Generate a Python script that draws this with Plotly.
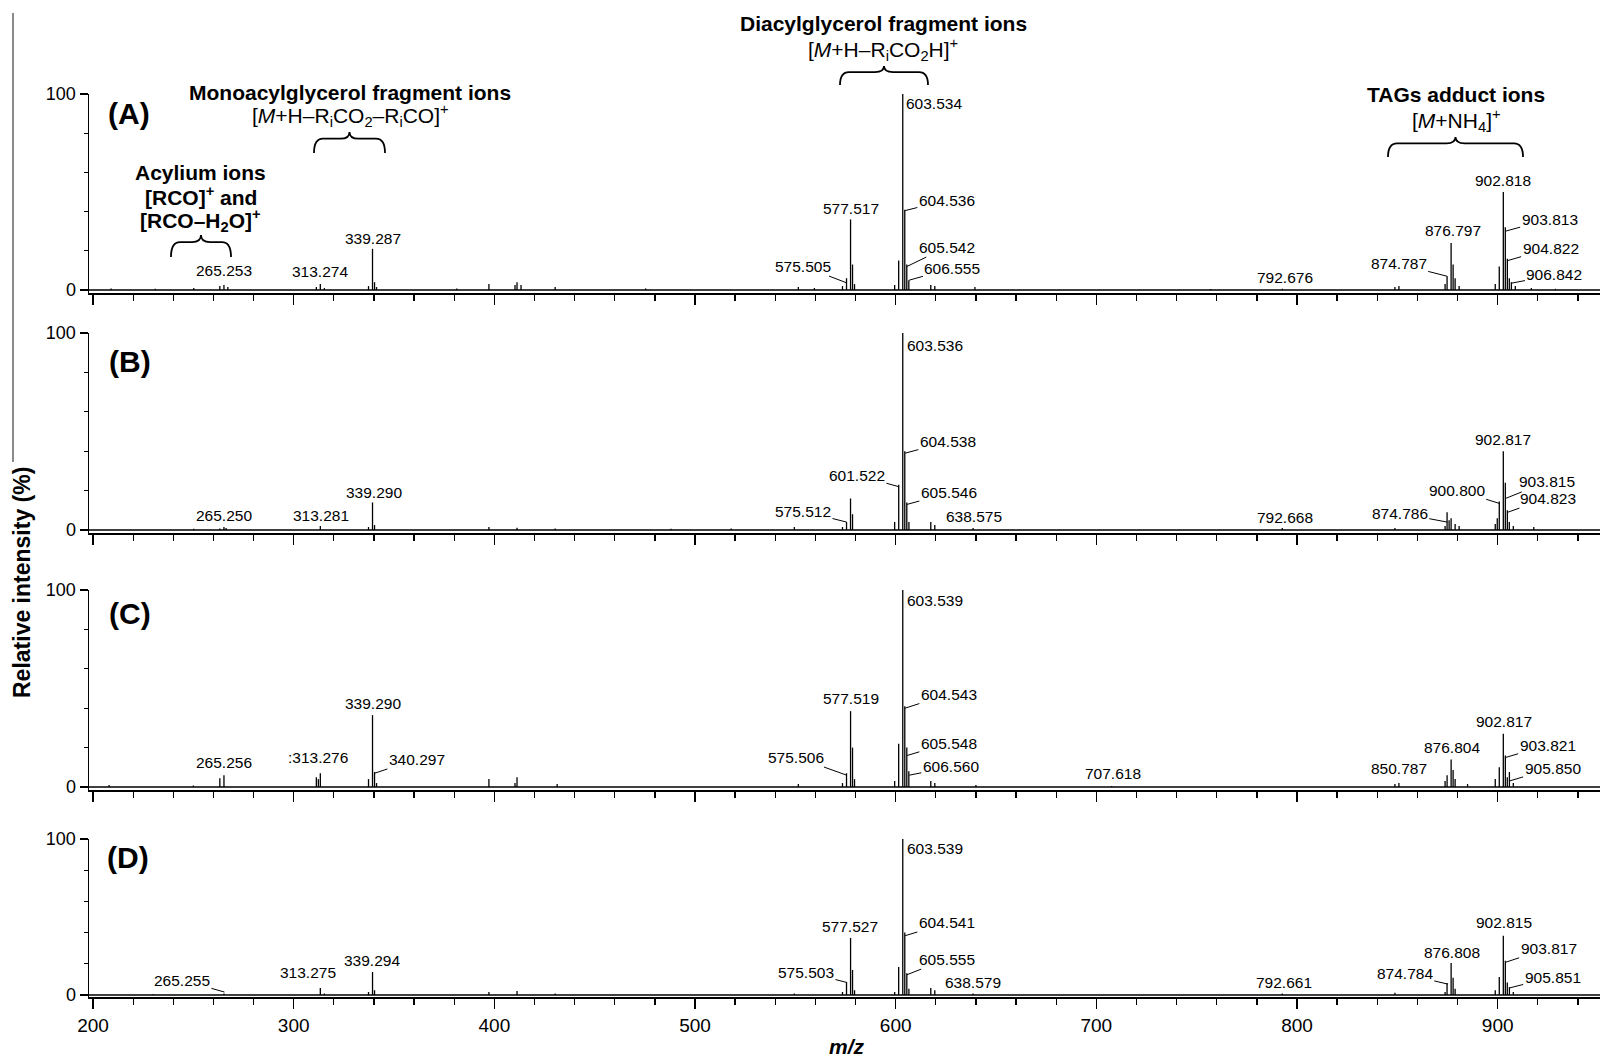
import plotly.graph_objects as go

W, H = 1600, 1059
FONT = "Liberation Sans, Arial, Helvetica, sans-serif"

# ---------------- data ----------------
X_RANGE = [198, 951]
Y_MIN = -1.5
PANEL_NAMES = ["(A)", "(B)", "(C)", "(D)"]

A_MZ = [209, 231, 250.2, 263.2, 265.253, 267.2, 311.3, 313.274, 315.3, 337.3, 339.287, 340.3, 341.3, 381.3,
        397.3, 410.3, 411.3, 413.3, 430.3, 475.4, 551.5, 559.5, 573.5, 575.505, 577.517, 578.5, 579.5, 599.5,
        601.5, 603.534, 604.536, 605.542, 606.555, 617.5, 619.5, 639.5, 757.0, 792.676, 848.8, 850.8, 873.8,
        874.787, 876.797, 877.8, 878.8, 880.8, 898.8, 900.8, 902.818, 903.813, 904.822, 905.8, 906.842, 908.8,
        916.8, 928.8]
A_INT = [0.8, 0.7, 1.0, 2.0, 2.5, 1.5, 1.5, 3.0, 1.0, 2.0, 21.0, 4.0, 1.5, 0.8,
         3.0, 2.5, 4.0, 2.5, 1.5, 0.8, 1.5, 1.0, 2.0, 6.0, 36.0, 13.0, 3.0, 2.5,
         15.0, 100.0, 41.0, 13.0, 5.0, 2.5, 2.0, 1.5, 0.5, 0.6, 1.5, 2.0, 3.0,
         7.0, 24.0, 13.0, 6.0, 2.0, 3.0, 12.0, 50.0, 32.0, 16.0, 6.0, 4.0, 2.0,
         1.0, 0.6]

B_MZ = [250.2, 263.2, 265.250, 266.3, 313.281, 337.3, 339.290, 340.3, 397.3, 411.3, 430.3, 488.0, 518.0,
        549.5, 573.5, 575.512, 577.5, 578.5, 599.5, 601.522, 603.536, 604.538, 605.546, 606.6, 617.5, 619.5,
        638.575, 792.668, 848.8, 873.8, 874.786, 875.8, 876.8, 878.8, 880.8, 898.8, 899.8, 900.800, 902.817,
        903.815, 904.823, 905.8, 907.8, 918.0]
B_INT = [0.6, 0.8, 1.5, 1.0, 2.0, 1.5, 14.0, 2.5, 1.5, 1.2, 0.8, 0.6, 0.8,
         1.5, 1.5, 4.0, 16.0, 8.0, 4.0, 23.0, 100.0, 40.0, 14.0, 4.0, 4.0, 2.5,
         1.0, 1.0, 1.0, 2.0, 9.0, 5.0, 6.0, 3.0, 2.0, 3.0, 6.0, 14.5, 40.0,
         24.0, 10.0, 4.0, 2.0, 1.5]

C_MZ = [208.0, 250.0, 263.2, 265.256, 311.3, 312.3, 313.276, 337.3, 339.290, 340.297, 341.3, 397.3, 410.3,
        411.3, 431.3, 551.5, 573.5, 575.506, 577.519, 578.5, 579.5, 599.5, 601.5, 603.539, 604.543, 605.548,
        606.560, 617.5, 619.5, 640.0, 707.618, 848.8, 850.787, 873.8, 874.8, 876.804, 877.8, 878.8, 885.0,
        898.8, 900.8, 902.817, 903.821, 904.8, 905.850, 907.8]
C_INT = [1.0, 0.8, 4.5, 6.0, 5.0, 4.0, 7.0, 4.0, 36.5, 7.6, 2.0, 4.0, 2.0,
         5.0, 1.5, 1.5, 2.0, 7.0, 38.5, 20.0, 4.0, 3.0, 22.0, 100.0, 41.0, 20.0,
         8.0, 3.0, 2.0, 1.0, 0.5, 1.5, 2.0, 3.0, 6.0, 14.0, 8.6, 4.0, 1.5,
         4.0, 10.0, 27.0, 16.0, 5.0, 7.6, 2.0]

D_MZ = [230.0, 265.255, 313.275, 315.3, 337.3, 339.294, 340.3, 397.3, 411.3, 430.3, 549.5, 573.5, 575.503,
        577.527, 578.5, 579.5, 599.5, 601.5, 603.539, 604.541, 605.555, 606.6, 617.5, 619.5, 638.579, 792.661,
        848.8, 873.8, 874.784, 876.808, 877.8, 878.8, 898.8, 900.8, 902.815, 903.817, 904.8, 905.851, 907.8]
D_INT = [0.5, 1.0, 4.5, 1.0, 2.0, 14.7, 3.0, 2.0, 2.5, 1.0, 1.0, 2.0, 8.0,
         36.5, 16.0, 3.0, 2.0, 18.0, 100.0, 40.0, 14.0, 4.0, 4.5, 3.0, 1.0, 1.0,
         1.5, 2.0, 7.7, 20.5, 11.0, 4.0, 3.0, 11.5, 38.0, 22.0, 8.0, 5.0, 2.0]

# peak labels: text
A_LABEL_TEXT = ["265.253", "313.274", "339.287", "575.505", "577.517", "603.534", "604.536", "605.542",
                "606.555", "792.676", "874.787", "876.797", "902.818", "903.813", "904.822", "906.842"]
B_LABEL_TEXT = ["265.250", "313.281", "339.290", "575.512", "601.522", "603.536", "604.538", "605.546",
                "638.575", "792.668", "874.786", "900.800", "902.817", "903.815", "904.823"]
C_LABEL_TEXT = ["265.256", ":313.276", "339.290", "340.297", "575.506", "577.519", "603.539", "604.543",
                "605.548", "606.560", "707.618", "850.787", "876.804", "902.817", "903.821", "905.850"]
D_LABEL_TEXT = ["265.255", "313.275", "339.294", "575.503", "577.527", "603.539", "604.541", "605.555",
                "638.579", "792.661", "874.784", "876.808", "902.815", "903.817", "905.851"]

# label placement: (text x, text y, leader-to x, leader-to y)  (None = no leader)
A_LABEL_POS = [(265.3, 9.7, None, None), (313.1, 9.2, None, None), (339.5, 26.5, None, None),
               (553.8, 12.2, 575.7, 3.6), (577.5, 41.8, None, None), (604.1, 94.9, None, None),
               (625.5, 45.9, 604.7, 40.5), (625.5, 21.9, 605.6, 12.0), (628.3, 11.2, 606.7, 5.0),
               (793.9, 6.6, None, None), (850.7, 13.3, 874.9, 7.0), (877.6, 30.6, None, None),
               (902.5, 56.1, None, None), (925.9, 36.2, 903.9, 30.0), (926.4, 21.4, 905.0, 15.0),
               (928.3, 7.7, 907.0, 3.5)]
B_LABEL_POS = [(265.3, 7.6, None, None), (313.6, 7.6, None, None), (339.8, 18.8, None, None),
               (553.8, 9.6, 575.6, 4.0), (580.7, 27.9, 601.5, 22.0), (604.6, 93.9, None, None),
               (626.0, 44.8, 604.7, 39.0), (626.5, 18.8, 605.7, 13.0), (638.9, 7.1, None, None),
               (793.9, 6.6, None, None), (851.2, 8.6, 874.9, 4.0), (879.6, 20.3, 900.8, 13.5),
               (902.5, 45.7, None, None), (924.4, 24.4, 903.9, 16.0), (924.9, 16.2, 905.0, 9.0)]
C_LABEL_POS = [(265.3, 12.2, None, None), (312.0, 15.2, None, None), (339.5, 42.6, None, None),
               (361.4, 14.2, 340.4, 7.0), (550.3, 15.2, 575.6, 6.0), (577.5, 44.7, None, None),
               (604.6, 94.9, None, None), (626.5, 47.2, 604.7, 40.0), (626.5, 22.3, 605.7, 16.0),
               (627.5, 10.2, 606.8, 6.0), (708.2, 6.9, None, None), (850.7, 9.6, None, None),
               (877.1, 19.8, None, None), (903.0, 33.0, None, None), (924.9, 21.3, 904.0, 15.0),
               (927.4, 9.6, 905.7, 3.0)]
D_LABEL_POS = [(244.3, 9.6, 265.5, 1.9), (306.9, 14.7, None, None), (339.2, 22.4, None, None),
               (555.3, 14.7, 575.8, 8.0), (577.4, 43.8, None, None), (604.6, 93.6, None, None),
               (625.5, 46.2, 604.7, 38.0), (625.5, 23.0, 605.6, 13.0), (638.7, 8.3, None, None),
               (793.7, 7.7, None, None), (853.7, 13.5, 875.1, 7.0), (877.1, 27.1, None, None),
               (903.0, 46.2, None, None), (925.4, 30.1, 904.0, 21.0), (927.4, 11.5, 905.8, 4.5)]

# ---------------- layout geometry (pixels of the picture) ----------------
PLOT_LEFT_PX = 89
PANEL_TOP_PX = [94, 333, 590, 839]      # y = 100
PANEL_ZERO_PX = [290, 530, 787, 995]    # y = 0


def px_x(px):
    return px / W


def px_y(py):
    return 1 - py / H


panels = [(A_MZ, A_INT, A_LABEL_TEXT, A_LABEL_POS),
          (B_MZ, B_INT, B_LABEL_TEXT, B_LABEL_POS),
          (C_MZ, C_INT, C_LABEL_TEXT, C_LABEL_POS),
          (D_MZ, D_INT, D_LABEL_TEXT, D_LABEL_POS)]

fig = go.Figure()
layout = dict(
    width=W, height=H, margin=dict(l=0, r=0, t=0, b=0, pad=0, autoexpand=False),
    paper_bgcolor="white", plot_bgcolor="white",
    font=dict(family=FONT, color="black"),
    showlegend=False, hovermode=False,
)
annotations = []
shapes = []

for i, (mz, inten, ltext, lpos) in enumerate(panels):
    sfx = "" if i == 0 else str(i + 1)
    xa, ya = "x" + sfx, "y" + sfx
    xs, ys = [X_RANGE[0], X_RANGE[1], None], [0, 0, None]
    for m, v in zip(mz, inten):
        xs += [m, m, None]
        ys += [0, v, None]
    fig.add_trace(go.Scatter(x=xs, y=ys, mode="lines", line=dict(color="black", width=1.3),
                             xaxis=xa, yaxis=ya, hoverinfo="skip"))

    top, zero = PANEL_TOP_PX[i], PANEL_ZERO_PX[i]
    scale = (zero - top) / 100.0
    bottom = zero - Y_MIN * scale
    layout["xaxis" + sfx] = dict(
        domain=[px_x(PLOT_LEFT_PX), 1.0], range=X_RANGE, anchor=ya, automargin=False,
        showline=True, linecolor="black", linewidth=1.8,
        ticks="outside", tick0=0, dtick=100, ticklen=10, tickwidth=1.6, tickcolor="black",
        minor=dict(ticks="outside", tick0=0, dtick=20, ticklen=6, tickwidth=1.3, tickcolor="black"),
        showticklabels=(i == 3), tickfont=dict(size=19, family=FONT, color="black"),
        showgrid=False, zeroline=False, fixedrange=True,
    )
    layout["yaxis" + sfx] = dict(
        domain=[px_y(bottom), px_y(top)], range=[Y_MIN, 100], anchor=xa, automargin=False,
        showline=True, linecolor="black", linewidth=1.5,
        tickvals=[0, 100], ticktext=["0", "100"],
        ticks="outside", ticklen=8, tickwidth=1.5, tickcolor="black",
        minor=dict(ticks="outside", tickvals=[20, 40, 60, 80], ticklen=4, tickwidth=1.2, tickcolor="black"),
        tickfont=dict(size=18, family=FONT, color="black"),
        showgrid=False, zeroline=False, fixedrange=True,
    )

    for t, (tx, ty, hx, hy) in zip(ltext, lpos):
        base_peak = t.startswith("603.")
        ann = dict(text=t, xref=xa, yref=ya, font=dict(size=15.5, family=FONT, color="black"))
        if hx is None:
            ann.update(x=tx, y=ty, showarrow=False, xanchor="left" if base_peak else "center",
                       yanchor="middle")
        else:
            ann.update(x=hx, y=hy, ax=tx, ay=ty, axref=xa, ayref=ya, showarrow=True,
                       arrowhead=0, arrowwidth=1, arrowcolor="black", standoff=0,
                       xanchor="center", yanchor="middle")
        annotations.append(ann)

# panel letters
PANEL_LABEL_PX = [(129, 113), (130, 362), (130, 613), (128, 857)]
for name, (px, py) in zip(PANEL_NAMES, PANEL_LABEL_PX):
    annotations.append(dict(text="<b>%s</b>" % name, x=px_x(px), y=px_y(py), xref="paper", yref="paper",
                             showarrow=False, xanchor="center", yanchor="middle",
                             font=dict(size=30, family=FONT)))

# group headers
HEADERS = [
    ("<b>Acylium ions</b>", 200, 172),
    ("<b>[RCO]<sup>+</sup> and</b>", 201, 196),
    ("<b>[RCO–H<sub>2</sub>O]<sup>+</sup></b>", 201, 221),
    ("<b>Monoacylglycerol fragment ions</b>", 350, 92),
    ("[<i>M</i>+H–R<sub>i</sub>CO<sub>2</sub>–R<sub>i</sub>CO]<sup>+</sup>", 350, 116),
    ("<b>Diacylglycerol fragment ions</b>", 883, 24),
    ("[<i>M</i>+H–R<sub>i</sub>CO<sub>2</sub>H]<sup>+</sup>", 883, 50),
    ("<b>TAGs adduct ions</b>", 1456, 95),
    ("[<i>M</i>+NH<sub>4</sub>]<sup>+</sup>", 1456, 121),
]
for txt, px, py in HEADERS:
    annotations.append(dict(text=txt, x=px_x(px), y=px_y(py), xref="paper", yref="paper",
                             showarrow=False, xanchor="center", yanchor="middle",
                             font=dict(size=21, family=FONT)))

# braces
BRACES = [(171, 231, 235, 257), (314, 385, 132, 153), (840, 928, 66, 85), (1388, 1523, 137, 157)]


def brace_path(x0, x1, yt, yb):
    xc = (x0 + x1) / 2.0
    ym = yt + (yb - yt) * 0.32
    r = 9.0
    pts = [("M", [(x0, yb)]),
           ("Q", [(x0, ym), (x0 + r, ym)]),
           ("L", [(xc - r, ym)]),
           ("Q", [(xc, ym), (xc, yt)]),
           ("Q", [(xc, ym), (xc + r, ym)]),
           ("L", [(x1 - r, ym)]),
           ("Q", [(x1, ym), (x1, yb)])]
    s = ""
    for cmd, cs in pts:
        s += cmd + " " + " ".join("%.5f,%.5f" % (px_x(a), px_y(b)) for a, b in cs) + " "
    return s.strip()


for x0, x1, yt, yb in BRACES:
    shapes.append(dict(type="path", path=brace_path(x0, x1, yt, yb), xref="paper", yref="paper",
                       line=dict(color="black", width=1.8)))

# left gray edge line
shapes.append(dict(type="line", x0=px_x(13), x1=px_x(13), y0=px_y(13), y1=px_y(462),
                   xref="paper", yref="paper", line=dict(color="#8a8a8a", width=2)))

# axis titles
annotations.append(dict(text="<b>Relative intensity (%)</b>", x=px_x(22), y=px_y(583), xref="paper",
                         yref="paper", showarrow=False, textangle=-90, xanchor="center", yanchor="middle",
                         font=dict(size=23, family=FONT)))
annotations.append(dict(text="<b><i>m/z</i></b>", x=px_x(847), y=px_y(1046), xref="paper", yref="paper",
                         showarrow=False, xanchor="center", yanchor="middle", font=dict(size=21, family=FONT)))

layout["annotations"] = annotations
layout["shapes"] = shapes
fig.update_layout(**layout)

fig.write_html("out.html", config={"displayModeBar": False, "staticPlot": True},
               post_script="document.body.style.margin='0';document.body.style.overflow='hidden';")
